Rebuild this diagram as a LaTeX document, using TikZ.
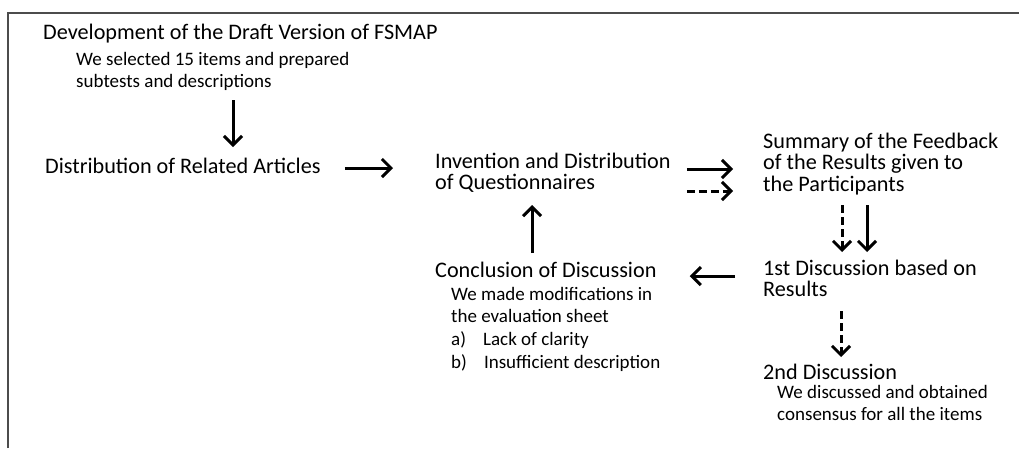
\documentclass[tikz,border=0pt]{standalone}
\usepackage{fontspec}
\setmainfont{Carlito}
\usetikzlibrary{arrows.meta}
\newcommand{\stacktext}[1]{\begin{tabular}[t]{@{}l@{}}#1\end{tabular}}

\begin{document}
\begin{tikzpicture}[x=1pt,y=-1pt,
  head/.style={anchor=base west,inner sep=0pt,font=\fontsize{22.2}{21.5}\selectfont},
  note/.style={anchor=base west,inner sep=0pt,font=\fontsize{19}{22.8}\selectfont},
  arr/.style={line width=3pt,-{Straight Barb[length=9pt,width=18pt]}},
  darr/.style={arr,dash pattern=on 8pt off 4pt}]
\useasboundingbox (0,0) rectangle (1019,448);
% frame
\draw[line width=1.5pt,black!70] (8,448) -- (8,13) -- (1019,13);
% left column
\node[head] (dev) at (43,39) {Development of the Draft Version of FSMAP};
\node[note] (devtxt) at (76,65) {\stacktext{We selected 15 items and prepared\\subtests and descriptions}};
\node[head] (dist) at (45,173) {Distribution of Related Articles};
% middle column
\node[head] (inv) at (435,168) {\stacktext{Invention and Distribution\\of Questionnaires}};
\node[head] (conc) at (435,277) {Conclusion of Discussion};
\node[note] (conctxt) at (451,300) {\stacktext{We made modifications in\\the evaluation sheet\\a)\hspace{0.9em}Lack of clarity\\b)\hspace{0.9em}Insufficient description}};
% right column
\node[head] (summ) at (763,148) {\stacktext{Summary of the Feedback\\of the Results given to\\the Participants}};
\node[head] (first) at (763,275) {\stacktext{1st Discussion based on\\Results}};
\node[head] (second) at (763,379) {2nd Discussion};
\node[note] (secondtxt) at (777,398) {\stacktext{We discussed and obtained\\consensus for all the items}};
% arrows
\draw[arr] ([xshift=190pt,yshift=-61pt]dev.base west) -- ([xshift=188pt,yshift=26pt]dist.base west);
\draw[arr] ([xshift=24pt,yshift=5pt]dist.base east) -- ([xshift=-42pt]inv.base west);
\draw[arr] ([xshift=16pt,yshift=-1pt]inv.base east) -- ([xshift=-30pt,yshift=-21pt]summ.base west);
\draw[darr] ([xshift=16pt,yshift=-23pt]inv.base east) -- ([xshift=-30pt,yshift=-43pt]summ.base west);
\draw[darr] ([xshift=79pt,yshift=-57pt]summ.base west) -- ([xshift=79pt,yshift=23pt]first.base west);
\draw[arr] ([xshift=104pt,yshift=-57pt]summ.base west) -- ([xshift=104pt,yshift=23pt]first.base west);
\draw[arr] ([xshift=-28pt,yshift=-1pt]first.base west) -- ([xshift=33pt,yshift=1pt]conc.base east);
\draw[arr] ([xshift=97pt,yshift=24pt]conc.base west) -- ([xshift=97pt,yshift=-37pt]inv.base west);
\draw[darr] ([xshift=78pt,yshift=-36pt]first.base west) -- ([xshift=78pt,yshift=22pt]second.base west);
\end{tikzpicture}
\end{document}
